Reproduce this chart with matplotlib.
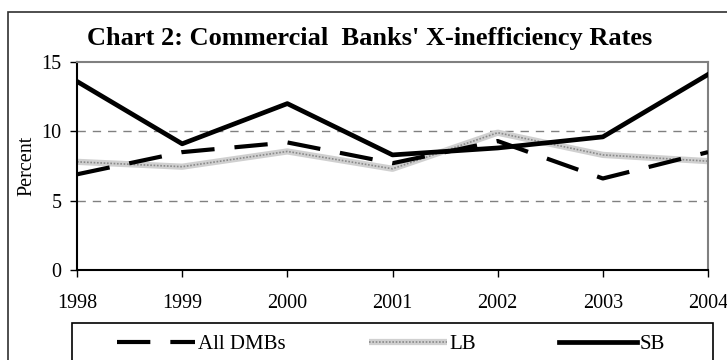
import matplotlib.pyplot as plt
from matplotlib.patches import Rectangle
from matplotlib.legend_handler import HandlerTuple

years = ['1998', '1999', '2000', '2001', '2002', '2003', '2004']
all_dmbs = [6.9, 8.5, 9.2, 7.7, 9.3, 6.6, 8.5]
lb = [7.8, 7.45, 8.55, 7.3, 9.9, 8.3, 7.85]
sb = [13.6, 9.1, 12.0, 8.3, 8.8, 9.6, 14.1]

plt.rcParams['font.family'] = ['Liberation Serif', 'DejaVu Serif']

fig = plt.figure(figsize=(7.27, 3.6), dpi=100)
ax = fig.add_axes([77 / 727, 90 / 360, 631 / 727, 208 / 360])

x = range(len(years))
l1, = ax.plot(x, all_dmbs, color='black', lw=3.0, dashes=(8, 4.8),
              dash_capstyle='butt', zorder=3)
l2a, = ax.plot(x, lb, color='#d0d0d0', lw=4.5, zorder=2, solid_capstyle='butt')
l2b, = ax.plot(x, lb, color='#8a8a8a', lw=1.2, dashes=(1, 1), zorder=2)
l3, = ax.plot(x, sb, color='black', lw=3.4, zorder=4)

ax.set_xlim(0, len(years) - 1)
ax.set_ylim(0, 15)
ax.set_yticks([0, 5, 10, 15])
ax.set_xticks(list(x))
ax.set_xticklabels(years)
ax.tick_params(axis='both', labelsize=14.5, length=5, width=1, color='black')
ax.tick_params(axis='x', direction='out', pad=12)
ax.tick_params(axis='y', pad=6)

for v in [5, 10]:
    ax.axhline(v, color='#808080', lw=1, dashes=(6, 5), zorder=1)

ax.spines['left'].set_color('black')
ax.spines['bottom'].set_color('black')
ax.spines['top'].set_color('#808080')
ax.spines['right'].set_color('#808080')
for s in ax.spines.values():
    s.set_linewidth(1.5)

ax.set_ylabel('Percent', fontsize=14.5, labelpad=4)

fig.text(370 / 727, 1 - 39 / 360, "Chart 2: Commercial  Banks' X-inefficiency Rates",
         ha='center', va='center', fontsize=19, fontweight='bold')

# outer frame, right and bottom edges fall outside the picture
fig.patches.append(Rectangle((8 / 727, -0.1), 1.0, 1 - 12 / 360 + 0.1, transform=fig.transFigure,
                             fill=False, edgecolor='#303030', lw=1.2))

# legend box, its bottom edge also runs off the picture
fig.patches.append(Rectangle((72 / 727, -0.1), 641 / 727, 1 - 323 / 360 + 0.1,
                             transform=fig.transFigure, fill=False, edgecolor='black', lw=1.2))

leg = fig.legend([l1, (l2a, l2b), l3], ['All DMBs', 'LB', 'SB'],
                 handler_map={tuple: HandlerTuple(ndivide=1)},
                 loc='center left', bbox_to_anchor=(117 / 727, 1 - 344 / 360),
                 ncol=3, fontsize=15, frameon=False,
                 handlelength=3.75, handletextpad=0.12, columnspacing=4.0,
                 borderpad=0, borderaxespad=0)

fig.savefig('out.png', dpi=100)
